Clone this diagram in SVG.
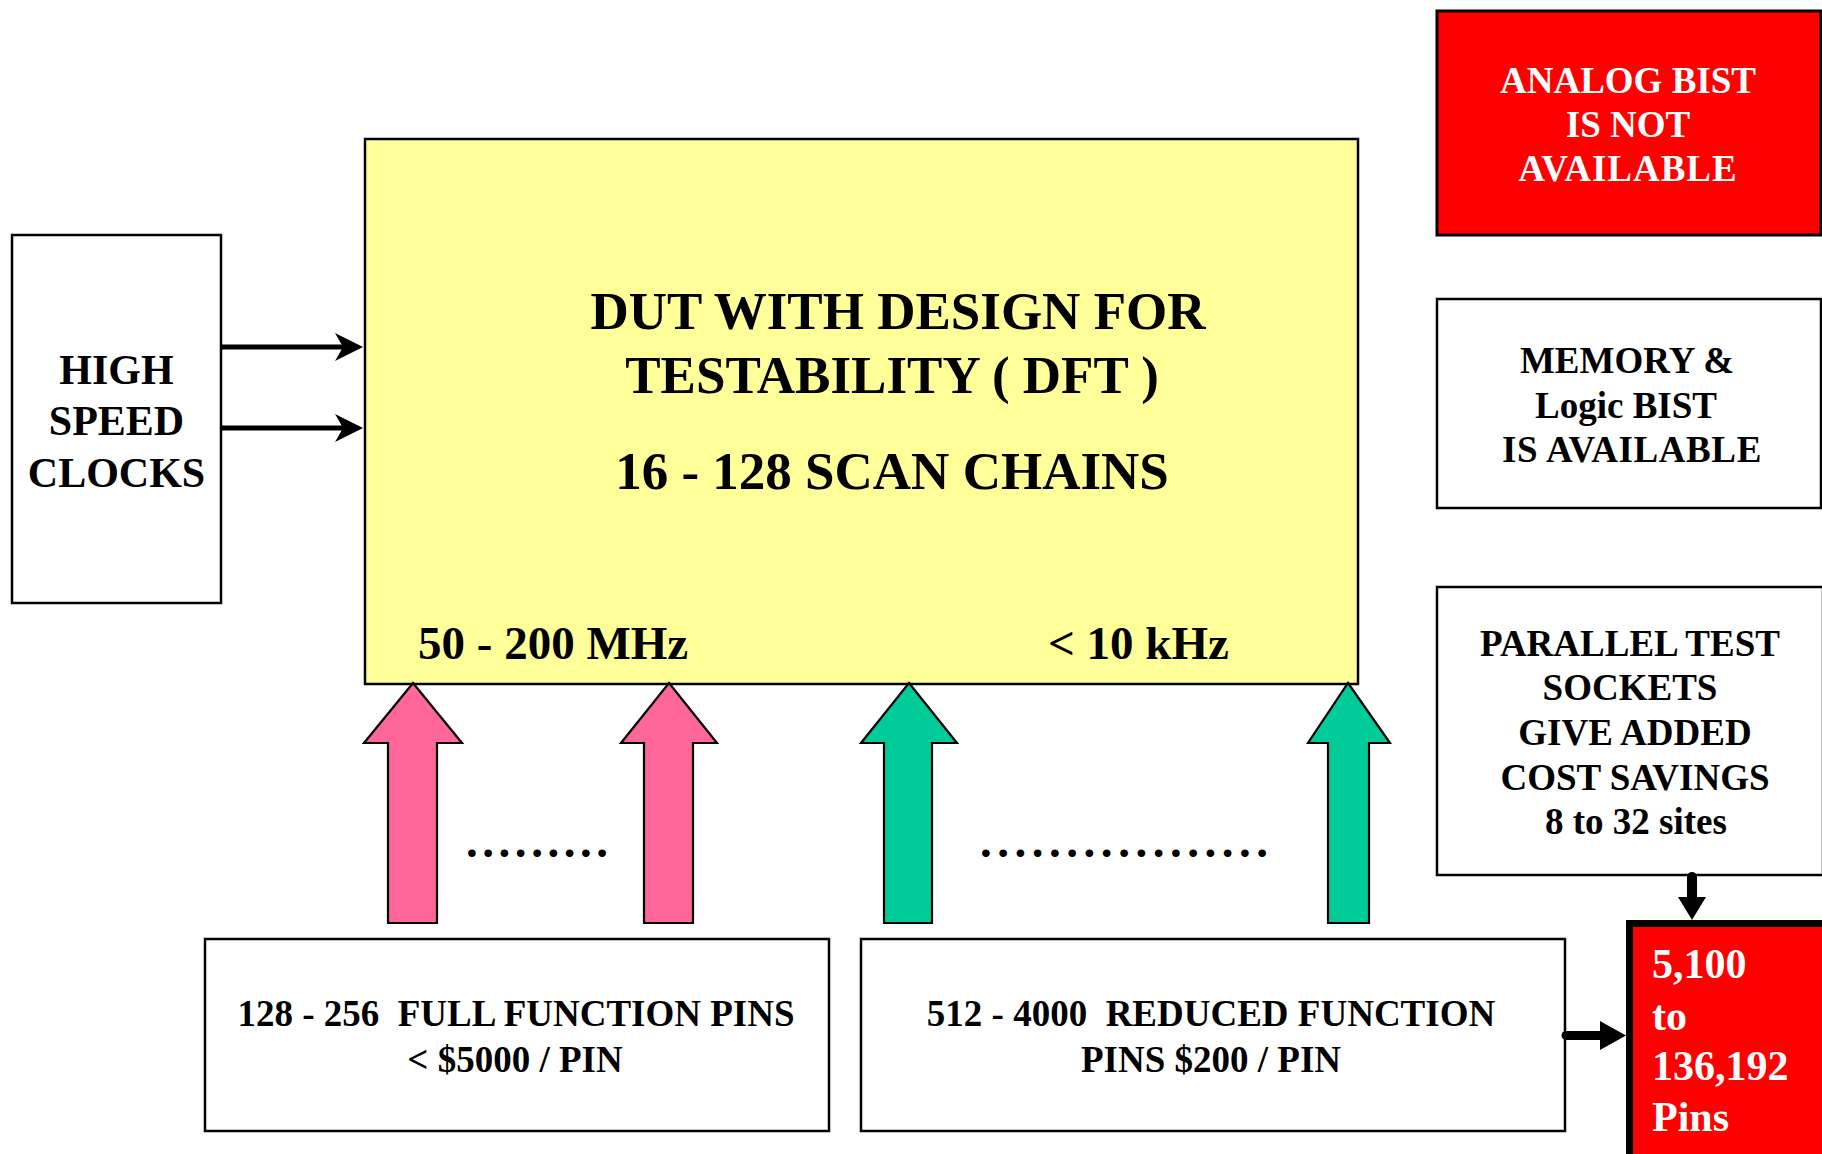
<svg xmlns="http://www.w3.org/2000/svg" width="1822" height="1154" viewBox="0 0 1822 1154">
<style>
.t{font-family:"Liberation Serif","Times New Roman",serif;font-weight:bold;fill:#000;white-space:pre}
.w{fill:#fff}
.box{fill:#fff;stroke:#000;stroke-width:2.5}
.red{fill:#ff0000;stroke:#000;stroke-width:3}
.yel{fill:#ffff99;stroke:#000;stroke-width:2.5}
.ln{stroke:#000;fill:none}
.hd{fill:#000;stroke:none}
.pk{fill:#ff6699;stroke:#000;stroke-width:2.2;stroke-linejoin:miter}
.gr{fill:#00cc99;stroke:#000;stroke-width:2.2;stroke-linejoin:miter}
</style>
<rect width="1822" height="1154" fill="#fff"/>

<g id="dut">
<rect class="yel" x="365" y="139" width="993" height="545"/>
<text class="t" font-size="53" x="898" y="329" text-anchor="middle">DUT WITH DESIGN FOR</text>
<text class="t" font-size="53" x="892" y="393" text-anchor="middle">TESTABILITY ( DFT )</text>
<text class="t" font-size="53" x="892" y="489" text-anchor="middle">16 - 128 SCAN CHAINS</text>
<text class="t" font-size="47" x="418" y="659">50 - 200 MHz</text>
<text class="t" font-size="47" x="1048" y="659">&lt; 10 kHz</text>
</g>

<g id="clocks">
<rect class="box" x="12" y="235" width="209" height="368"/>
<text class="t" font-size="42" x="116.5" y="384" text-anchor="middle">HIGH</text>
<text class="t" font-size="42" x="116.5" y="435" text-anchor="middle">SPEED</text>
<text class="t" font-size="42" x="116.5" y="487" text-anchor="middle">CLOCKS</text>
</g>

<g id="analog">
<rect class="red" x="1437" y="11" width="384" height="224"/>
<text class="t w" font-size="37" x="1628" y="93" text-anchor="middle">ANALOG BIST</text>
<text class="t w" font-size="37" x="1628" y="137" text-anchor="middle">IS NOT</text>
<text class="t w" font-size="37" x="1628" y="181" text-anchor="middle" letter-spacing="1">AVAILABLE</text>
</g>

<g id="memory">
<rect class="box" x="1437" y="299" width="384" height="209"/>
<text class="t" font-size="37" x="1627" y="373" text-anchor="middle">MEMORY &amp;</text>
<text class="t" font-size="37" x="1626" y="418" text-anchor="middle">Logic BIST</text>
<text class="t" font-size="37" x="1632" y="462" text-anchor="middle" letter-spacing="0.6">IS AVAILABLE</text>
</g>

<g id="parallel">
<rect class="box" x="1437" y="587" width="386" height="288"/>
<text class="t" font-size="37" x="1630" y="656" text-anchor="middle">PARALLEL TEST</text>
<text class="t" font-size="37" x="1630" y="700" text-anchor="middle">SOCKETS</text>
<text class="t" font-size="37" x="1635" y="745" text-anchor="middle">GIVE ADDED</text>
<text class="t" font-size="37" x="1635" y="790" text-anchor="middle">COST SAVINGS</text>
<text class="t" font-size="37" x="1636" y="834" text-anchor="middle">8 to 32 sites</text>
</g>

<g id="fullpins">
<rect class="box" x="205" y="939" width="624" height="192"/>
<text class="t" font-size="37" x="516" y="1026" text-anchor="middle">128 - 256  FULL FUNCTION PINS</text>
<text class="t" font-size="37" x="515" y="1072" text-anchor="middle">&lt; $5000 / PIN</text>
</g>

<g id="reducedpins">
<rect class="box" x="861" y="939" width="704" height="192"/>
<text class="t" font-size="37" x="1211" y="1026" text-anchor="middle">512 - 4000  REDUCED FUNCTION</text>
<text class="t" font-size="37" x="1211" y="1072" text-anchor="middle">PINS $200 / PIN</text>
</g>

<g id="connectors">
<!-- clock arrows -->
<line class="ln" x1="221" y1="347" x2="345" y2="347" stroke-width="5"/>
<path class="hd" d="M363,347 L335,333 L343,347 L335,361 Z"/>
<line class="ln" x1="221" y1="428" x2="345" y2="428" stroke-width="5"/>
<path class="hd" d="M363,428 L335,414 L343,428 L335,442 Z"/>
<!-- fat up arrows -->
<polygon class="pk" points="413,683 462,743 437,743 437,923 388,923 388,743 364,743"/>
<polygon class="pk" points="669,683 717,743 693,743 693,923 644,923 644,743 621,743"/>
<polygon class="gr" points="909,683 957,743 932,743 932,923 884,923 884,743 861,743"/>
<polygon class="gr" points="1348,683 1390,743 1369,743 1369,923 1328,923 1328,743 1308,743"/>
<!-- to pins box -->
<line class="ln" x1="1692" y1="877" x2="1692" y2="899" stroke-width="10" stroke-linecap="round"/>
<path class="hd" d="M1678,897 L1706,897 L1692,920 Z"/>
<line class="ln" x1="1566" y1="1035.5" x2="1602" y2="1035.5" stroke-width="9" stroke-linecap="round"/>
<path class="hd" d="M1600,1021 L1600,1050 L1626,1035.5 Z"/>
</g>

<g id="dots">
<text class="t" font-size="47" x="466" y="857" textLength="142" lengthAdjust="spacing">.........</text>
<text class="t" font-size="47" x="980" y="857" textLength="288" lengthAdjust="spacing">.................</text>
</g>

<g id="pins">
<rect x="1629.5" y="923.5" width="200" height="240" fill="#ff0000" stroke="#000" stroke-width="7"/>
<text class="t w" font-size="42" x="1652" y="978">5,100</text>
<text class="t w" font-size="42" x="1652" y="1030">to</text>
<text class="t w" font-size="42" x="1652" y="1080">136,192</text>
<text class="t w" font-size="42" x="1652" y="1131">Pins</text>
</g>
</svg>
